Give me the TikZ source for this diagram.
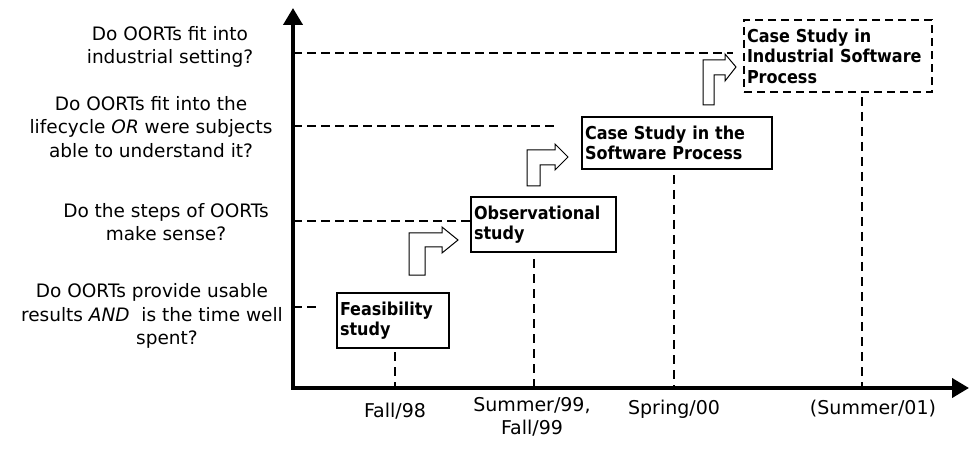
\documentclass[tikz,border=0pt]{standalone}
\usepackage{fontspec}
\setmainfont{DejaVu Sans}
\newfontfamily\boxfont{DejaVu Sans Condensed}
\usetikzlibrary{arrows.meta}
\begin{document}
\begin{tikzpicture}[x=1pt,y=-1pt,
  axis/.style={line width=4pt,line join=miter,{Triangle[length=17pt,width=19pt]}-{Triangle[length=17pt,width=19pt]}},
  guide/.style={line width=2pt,dash pattern=on 9pt off 5pt},
  vguide/.style={line width=1.7pt,dash pattern=on 9pt off 6pt},
  question/.style={align=center,font=\fontsize{18.5}{23.5}\selectfont,inner sep=0pt},
  datelabel/.style={align=center,font=\fontsize{19}{23.5}\selectfont,inner sep=0pt},
  phase/.style={draw,line width=2pt,anchor=north west,align=left,
    font=\boxfont\bfseries\fontsize{17.8}{20.5}\selectfont,inner xsep=3pt,inner ysep=0pt},
  turn/.style={draw,line width=1pt,fill=white,line join=miter}]
\useasboundingbox (0,0) rectangle (972,449);

% axes
\coordinate (ytop) at (293,8);
\coordinate (origin) at (293,388);
\coordinate (xend) at (969,388);
\draw[axis] (ytop) -- (origin) -- (xend);

% questions
\node[question] (q1) at (170,47) {Do OORTs fit into\\industrial setting?};
\node[question] (q2) at (151,127) {Do OORTs fit into the\\lifecycle \textit{OR} were subjects\\able to understand it?};
\node[question] (q3) at (166,222) {Do the steps of OORTs\\make sense?};
\node[question] (q4) at (152,316) {Do OORTs provide usable\\results \textit{AND}\ \ is the time well\\\hspace*{30pt}spent?};

% phase boxes
\node[phase,minimum width=112pt,minimum height=55pt,text width=106pt] (feas) at (336,292) {Feasibility\\study};
\node[phase,minimum width=145pt,minimum height=55pt,text width=139pt] (obs) at (470,196) {Observational\\study};
\node[phase,minimum width=190pt,minimum height=52pt,text width=184pt] (csp) at (581,116) {Case Study in the\\Software Process};
\node[phase,dash pattern=on 8pt off 5pt,minimum width=188pt,minimum height=72pt,text width=182pt] (cis) at (743,19) {Case Study in\\Industrial Software\\Process};

% horizontal guides
\coordinate (h1) at (293,53);
\coordinate (h1e) at (733,53);
\coordinate (h2) at (293,126);
\coordinate (h2e) at (555,126);
\coordinate (h3) at (293,221);
\coordinate (h3e) at (470,221);
\coordinate (h4) at (293,307);
\coordinate (h4e) at (320,307);
\draw[guide] (h1) -- (h1e);
\draw[guide] (h2) -- (h2e);
\draw[guide] (h3) -- (h3e);
\draw[guide] (h4) -- (h4e);

% vertical guides
\coordinate (v1) at (395,352);
\coordinate (v1e) at (395,388);
\coordinate (v2) at (534,259);
\coordinate (v2e) at (534,388);
\coordinate (v3) at (674,175);
\coordinate (v3e) at (674,388);
\coordinate (v4) at (862,97);
\coordinate (v4e) at (862,388);
\draw[vguide] (v1) -- (v1e);
\draw[vguide] (v2) -- (v2e);
\draw[vguide] (v3) -- (v3e);
\draw[vguide] (v4) -- (v4e);

% bent arrows
\draw[turn] (409,275) -- (409,233) -- (442,233) -- (442,227) -- (458,240) -- (442,253) -- (442,247) -- (425,247) -- (425,275) -- cycle;
\draw[turn] (527,186) -- (527,150) -- (555,150) -- (555,144) -- (568,157) -- (555,170) -- (555,165) -- (540,165) -- (540,186) -- cycle;
\draw[turn] (703,105) -- (703,60) -- (725,60) -- (725,54) -- (736,67) -- (725,81) -- (725,75) -- (714,75) -- (714,105) -- cycle;

% dates
\node[datelabel] (d1) at (395,411) {Fall/98};
\node[datelabel] (d2) at (532,417) {Summer/99,\\Fall/99};
\node[datelabel] (d3) at (674,409) {Spring/00};
\node[datelabel] (d4) at (873,409) {(Summer/01)};
\end{tikzpicture}
\end{document}
